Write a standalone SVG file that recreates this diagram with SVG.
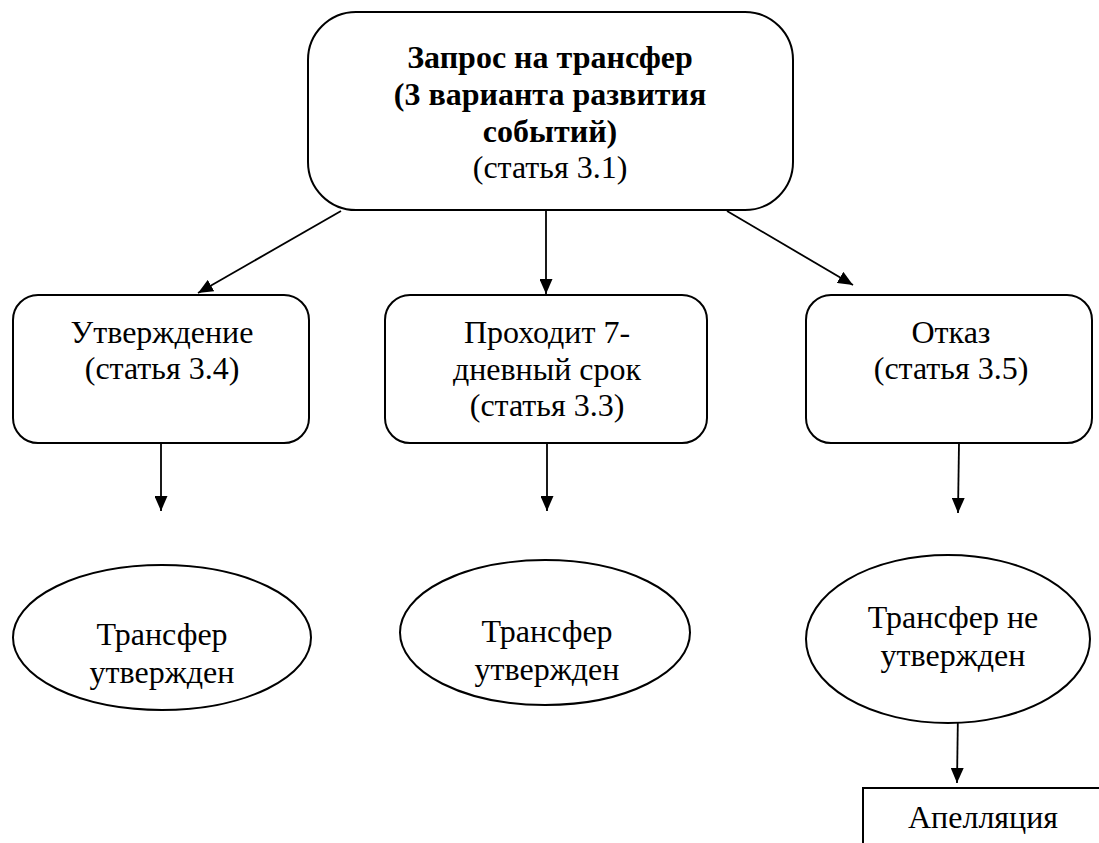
<svg xmlns="http://www.w3.org/2000/svg" width="1099" height="843" viewBox="0 0 1099 843">
<defs>
<marker id="ah" viewBox="0 0 15 13" refX="15" refY="6.5" markerWidth="15" markerHeight="13" markerUnits="userSpaceOnUse" orient="auto"><path d="M0,0 L15,6.5 L0,13 z" fill="#000"/></marker>
<style>
.s{fill:#fff;stroke:#000;stroke-width:2}
.t{font-family:'Liberation Serif','Times New Roman',serif;font-size:32px;fill:#000;text-anchor:middle}
.b{font-weight:bold}
.c{stroke:#000;stroke-width:1.8;fill:none;marker-end:url(#ah)}
</style>
</defs>
<rect width="1099" height="843" fill="#fff"/>
<g id="connectors">
<line class="c" x1="341" y1="211" x2="198" y2="293"/>
<line class="c" x1="546" y1="211" x2="546" y2="294"/>
<line class="c" x1="727" y1="211" x2="853" y2="285"/>
<line class="c" x1="161" y1="443" x2="161" y2="511"/>
<line class="c" x1="547" y1="443" x2="547" y2="511"/>
<line class="c" x1="959" y1="443" x2="958" y2="513"/>
<line class="c" x1="958" y1="710" x2="957" y2="783"/>
</g>
<g id="n-request">
<rect class="s" x="308" y="12" width="485" height="198" rx="48"/>
<text class="t b" x="550" y="68">Запрос на трансфер</text>
<text class="t b" x="550" y="105">(3 варианта развития</text>
<text class="t b" x="550" y="142">событий)</text>
<text class="t" x="550" y="178">(статья 3.1)</text>
</g>
<g id="n-approve">
<rect class="s" x="13" y="295" width="296" height="148" rx="25"/>
<text class="t" x="162" y="343">Утверждение</text>
<text class="t" x="162" y="379">(статья 3.4)</text>
</g>
<g id="n-seven">
<rect class="s" x="385" y="295" width="322" height="148" rx="25"/>
<text class="t" x="547" y="343">Проходит 7-</text>
<text class="t" x="547" y="380">дневный срок</text>
<text class="t" x="547" y="416">(статья 3.3)</text>
</g>
<g id="n-refuse">
<rect class="s" x="806" y="295" width="286" height="148" rx="25"/>
<text class="t" x="951" y="343">Отказ</text>
<text class="t" x="951" y="379">(статья 3.5)</text>
</g>
<g id="n-res1">
<ellipse class="s" cx="162" cy="637.5" rx="149" ry="72.5"/>
<text class="t" x="162" y="645">Трансфер</text>
<text class="t" x="162" y="683">утвержден</text>
</g>
<g id="n-res2">
<ellipse class="s" cx="545" cy="632.5" rx="145" ry="72.5"/>
<text class="t" x="547" y="642">Трансфер</text>
<text class="t" x="547" y="680">утвержден</text>
</g>
<g id="n-res3">
<ellipse class="s" cx="948" cy="639" rx="142" ry="84"/>
<text class="t" x="953" y="628">Трансфер не</text>
<text class="t" x="953" y="666">утвержден</text>
</g>
<g id="n-appeal">
<rect class="s" x="863" y="788" width="250" height="70"/>
<text class="t" x="983" y="828">Апелляция</text>
</g>
</svg>
